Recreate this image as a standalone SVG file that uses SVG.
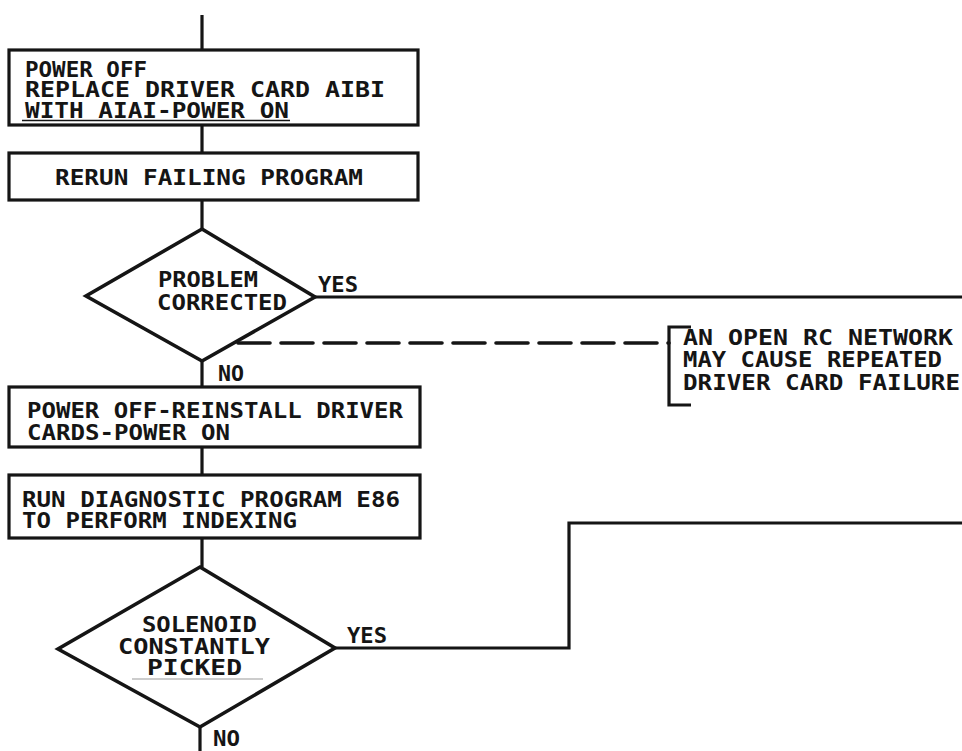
<svg xmlns="http://www.w3.org/2000/svg" width="962" height="751" viewBox="0 0 962 751">
<style>
.box{fill:none;stroke:#151515;stroke-width:3.2}
.dia{fill:none;stroke:#151515;stroke-width:3.6;stroke-linejoin:miter}
.ln{fill:none;stroke:#151515;stroke-width:3.2}
.dash{fill:none;stroke:#151515;stroke-width:3.6;stroke-dasharray:32 11;stroke-linecap:round}
.t{font-family:"DejaVu Sans Mono","Liberation Mono",monospace;font-size:21px;font-weight:bold;fill:#151515}
.faint{stroke:#9a9a9a;stroke-width:1.2}
</style>
<rect width="962" height="751" fill="#fff"/>
<g id="connectors">
<line class="ln" x1="202" y1="15" x2="202" y2="50"/>
<line class="ln" x1="202" y1="125" x2="202" y2="153"/>
<line class="ln" x1="202" y1="200" x2="202" y2="229"/>
<line class="ln" x1="202" y1="361" x2="202" y2="387"/>
<line class="ln" x1="202" y1="447" x2="202" y2="475"/>
<line class="ln" x1="202" y1="538" x2="202" y2="567"/>
<line class="ln" x1="200" y1="727" x2="200" y2="751"/>
<line class="ln" x1="315" y1="297" x2="962" y2="297"/>
<polyline class="ln" points="335,648 569,648 569,523 962,523"/>
<line class="dash" x1="238" y1="343" x2="669" y2="343"/>
<text class="t" x="318" y="292" textLength="40" lengthAdjust="spacingAndGlyphs">YES</text>
<text class="t" x="218" y="381" textLength="26" lengthAdjust="spacingAndGlyphs">NO</text>
<text class="t" x="347" y="643" textLength="40" lengthAdjust="spacingAndGlyphs">YES</text>
<text class="t" x="213" y="746" textLength="27" lengthAdjust="spacingAndGlyphs">NO</text>
</g>
<g id="box1">
<rect class="box" x="9" y="50" width="409" height="75"/>
<text class="t" x="25" y="77" textLength="122" lengthAdjust="spacingAndGlyphs">POWER OFF</text>
<text class="t" x="25" y="97" textLength="360" lengthAdjust="spacingAndGlyphs">REPLACE DRIVER CARD AIBI</text>
<text class="t" x="25" y="118" textLength="264" lengthAdjust="spacingAndGlyphs">WITH AIAI-POWER ON</text>
<line x1="22" y1="120.5" x2="290" y2="120.5" stroke="#151515" stroke-width="1.5"/>
</g>
<g id="box2">
<rect class="box" x="9" y="153" width="409" height="47"/>
<text class="t" x="55" y="185" textLength="308" lengthAdjust="spacingAndGlyphs">RERUN FAILING PROGRAM</text>
</g>
<g id="decision1">
<polygon class="dia" points="202,229 315,297 202,361 86,296"/>
<text class="t" x="158" y="287" textLength="100" lengthAdjust="spacingAndGlyphs">PROBLEM</text>
<text class="t" x="157" y="310" textLength="130" lengthAdjust="spacingAndGlyphs">CORRECTED</text>
</g>
<g id="note">
<polyline class="ln" points="691,327 669,327 669,405 691,405"/>
<text class="t" x="683" y="345" textLength="270" lengthAdjust="spacingAndGlyphs">AN OPEN RC NETWORK</text>
<text class="t" x="683" y="367" textLength="259" lengthAdjust="spacingAndGlyphs">MAY CAUSE REPEATED</text>
<text class="t" x="683" y="390" textLength="277" lengthAdjust="spacingAndGlyphs">DRIVER CARD FAILURE</text>
</g>
<g id="box4">
<rect class="box" x="9" y="387" width="411" height="60"/>
<text class="t" x="27" y="418" textLength="376" lengthAdjust="spacingAndGlyphs">POWER OFF-REINSTALL DRIVER</text>
<text class="t" x="27" y="440" textLength="203" lengthAdjust="spacingAndGlyphs">CARDS-POWER ON</text>
</g>
<g id="box3">
<rect class="box" x="9" y="475" width="411" height="63"/>
<text class="t" x="22" y="507" textLength="378" lengthAdjust="spacingAndGlyphs">RUN DIAGNOSTIC PROGRAM E86</text>
<text class="t" x="22" y="528" textLength="275" lengthAdjust="spacingAndGlyphs">TO PERFORM INDEXING</text>
</g>
<g id="decision2">
<polygon class="dia" points="200,567 335,648 200,727 58,649"/>
<text class="t" x="142" y="632" textLength="115" lengthAdjust="spacingAndGlyphs">SOLENOID</text>
<text class="t" x="118" y="654" textLength="152" lengthAdjust="spacingAndGlyphs">CONSTANTLY</text>
<text class="t" x="147" y="675" textLength="95" lengthAdjust="spacingAndGlyphs">PICKED</text>
<line class="faint" x1="132" y1="679" x2="263" y2="679"/>
</g>
</svg>
